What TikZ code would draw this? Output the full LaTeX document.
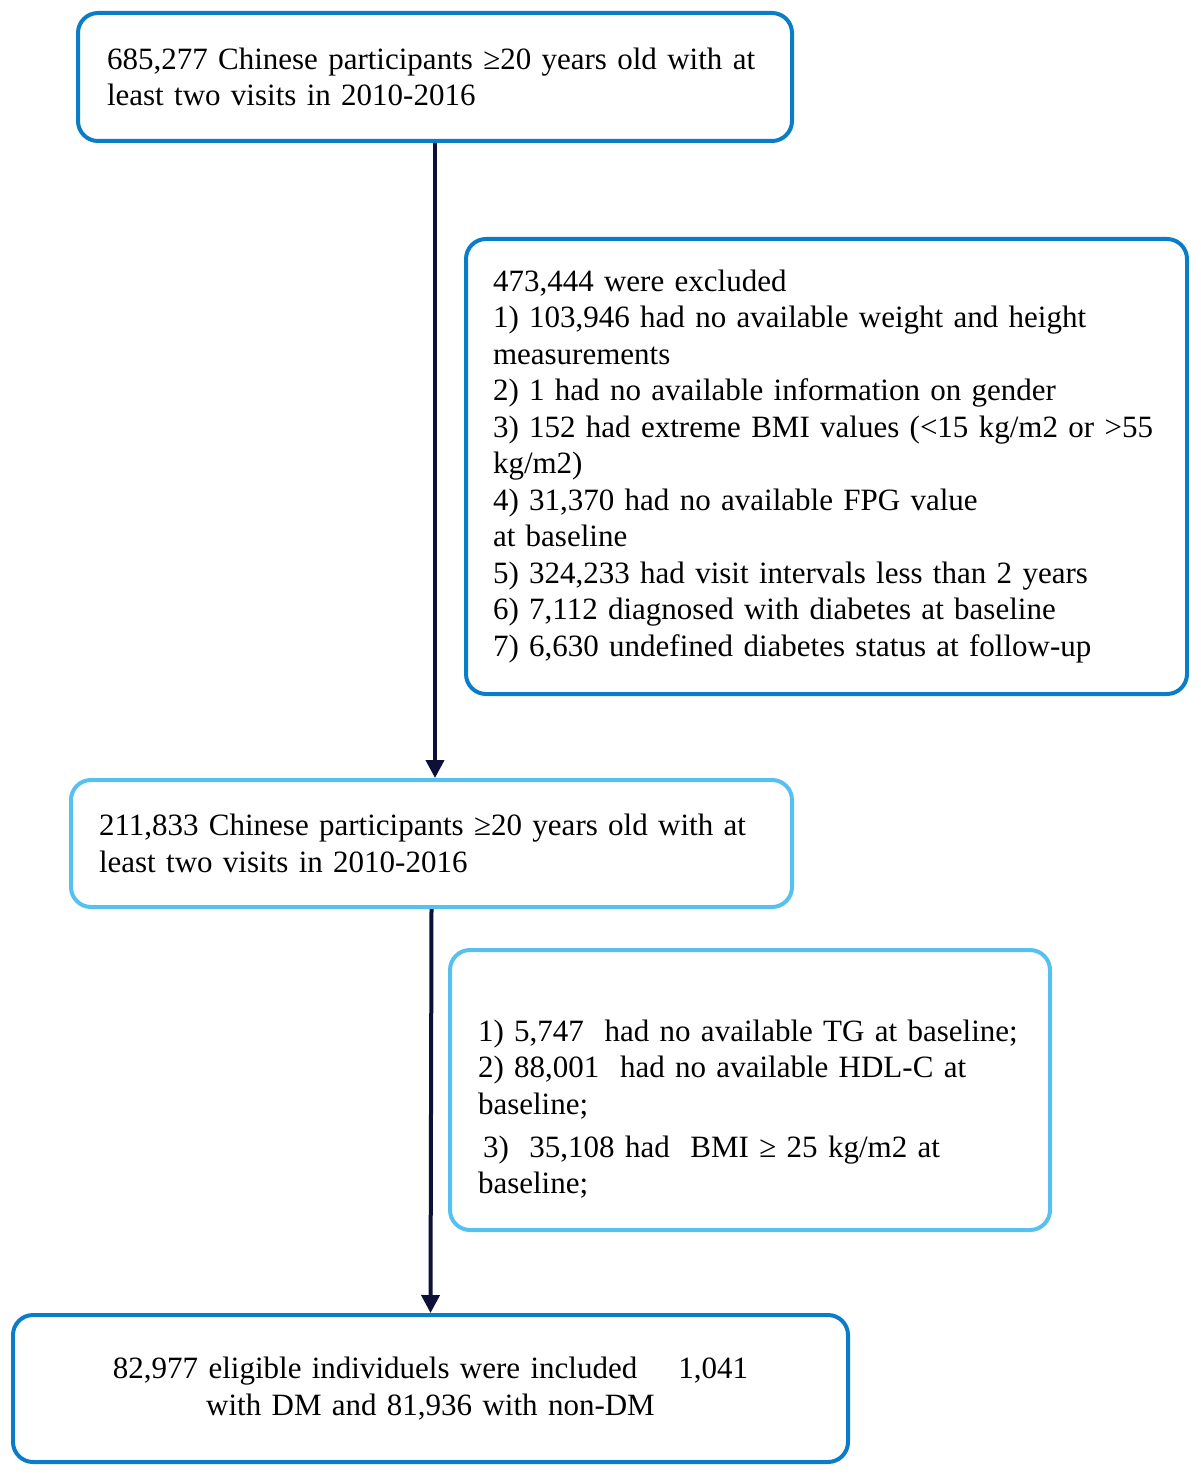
\documentclass[tikz,border=0pt]{standalone}
\usepackage{fontspec}
\setmainfont{Liberation Serif}
\usepackage{tikz}
\usetikzlibrary{arrows.meta}

\definecolor{darkframe}{RGB}{10,125,201}
\definecolor{lightframe}{RGB}{86,193,240}
\definecolor{arrowink}{RGB}{13,16,56}

\begin{document}
\begin{tikzpicture}[x=0.5pt, y=-0.5pt,
    box/.style={draw=darkframe, line width=2pt, rounded corners=10pt, inner sep=0pt, align=left,
        font=\fontsize{15.5}{18.25}\selectfont},
    lightbox/.style={box, draw=lightframe},
    flow/.style={draw=arrowink, line width=2pt, -{Triangle[length=9pt, width=9pt]}}]
            \useasboundingbox (0,0) rectangle (1200,1475);

            % Nodes
            \node[box, minimum width=357pt, minimum height=64pt, text width=328pt] (start) at (435, 77)
                {685,277 Chinese participants ≥20 years old with at\\least two visits in 2010-2016};
            \node[box, minimum width=360.5pt, minimum height=227.5pt, text width=333.5pt] (excl1) at (826.5, 466.5)
                {473,444 were excluded\\
                1) 103,946 had no available weight and height\\
                measurements\\
                2) 1 had no available information on gender\\
                3) 152 had extreme BMI values (<15 kg/m2 or >55\\
                kg/m2)\\
                4) 31,370 had no available FPG value\\
                at baseline\\
                5) 324,233 had visit intervals less than 2 years\\
                6) 7,112 diagnosed with diabetes at baseline\\
                7) 6,630 undefined diabetes status at follow-up};
            \node[lightbox, minimum width=360.5pt, minimum height=63.5pt, text width=332.5pt] (middle) at (431.5, 843.5)
                {211,833 Chinese participants ≥20 years old with at\\least two visits in 2010-2016};
            \node[lightbox, minimum width=300pt, minimum height=140pt, text width=272pt] (excl2) at (750, 1090)
                {\rule{0pt}{30pt}1) 5,747\ \ had no available TG at baseline;\\
                2) 88,001\ \ had no available HDL-C at\\
                baseline;\\[3.25pt]
                \hspace*{2.5pt}3)\ \ 35,108 had\ \ BMI ≥ 25 kg/m2 at\\
                baseline;};
            \node[box, align=center, minimum width=417.5pt, minimum height=73.5pt, text width=380pt] (final) at (430.5, 1388.5)
                {82,977 eligible individuels were included\hspace{20.5pt}1,041\\with DM and 81,936 with non-DM};

            % Lines
            \draw[flow] (start.south) -- (start.south |- middle.north);
            \draw[flow] (middle.south) -- (final.north);
\end{tikzpicture}
\end{document}
